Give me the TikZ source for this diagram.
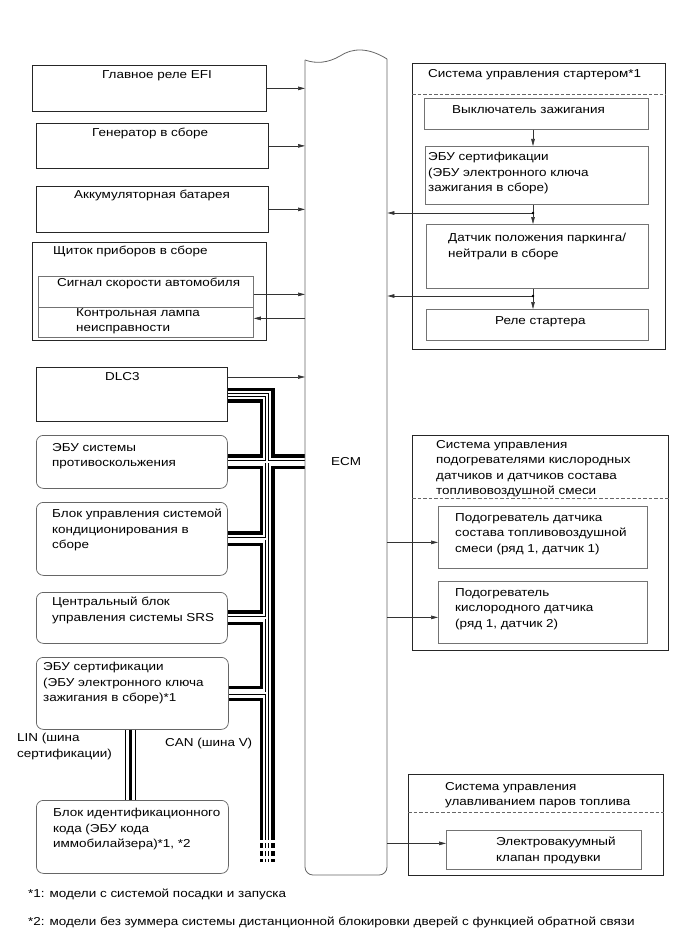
\documentclass[tikz,border=0pt]{standalone}
\usepackage{fontspec}
\setmainfont{Liberation Sans}[FakeStretch=1.17]
\usetikzlibrary{arrows.meta}

\tikzset{
  box/.style={draw=black!85, line width=0.75pt, inner sep=0pt, anchor=north west},
  rbox/.style={box, draw=black!60, rounded corners=7pt},
  ibox/.style={box, draw=black!55},
  txt/.style={inner sep=0pt, anchor=north west, align=left, font=\fontsize{11.5}{15.5}\selectfont},
  sig/.style={draw=black!80, line width=0.6pt, -{Triangle[length=7pt,width=3.6pt]}},
  sepline/.style={draw=black!60, line width=0.6pt, dash pattern=on 3.5pt off 2pt},
}

\begin{document}
\begin{tikzpicture}[x=1pt,y=-1pt]
\useasboundingbox (0,0) rectangle (690,952);

%Shape: ECM (outline drawn below)
\node[inner sep=0pt, minimum width=82pt, minimum height=815pt, anchor=north west] (ecm) at (305,60) {};

%Shape: Rectangle, left column
\node[box, minimum width=234pt, minimum height=46pt] (efi) at (32,65) {};
\node[box, minimum width=232pt, minimum height=45pt] (gen) at (36,123) {};
\node[box, minimum width=232pt, minimum height=46pt] (bat) at (36,186) {};
\node[box, minimum width=234pt, minimum height=98pt] (clu) at (32,242) {};
\node[ibox, minimum width=215pt, minimum height=31pt] (spd) at (38,276) {};
\node[ibox, minimum width=215pt, minimum height=30pt] (lamp) at (38,307) {};
\node[box, minimum width=191pt, minimum height=54pt] (dlc) at (36,367) {};
\node[rbox, minimum width=191pt, minimum height=53pt] (abs) at (36,435) {};
\node[rbox, minimum width=191pt, minimum height=73pt] (ac) at (36,502) {};
\node[rbox, minimum width=191pt, minimum height=51pt] (srs) at (36,592) {};
\node[rbox, minimum width=192pt, minimum height=72pt] (cert) at (36,657) {};
\node[rbox, minimum width=192pt, minimum height=73pt] (immo) at (36,800) {};

%Shape: Rectangle, right column
\node[box, minimum width=253pt, minimum height=286pt] (sta) at (412,63) {};
\node[ibox, minimum width=224pt, minimum height=31pt] (ign) at (424,98) {};
\node[ibox, minimum width=223pt, minimum height=58pt] (cer) at (425,146) {};
\node[ibox, minimum width=222pt, minimum height=64pt] (park) at (426,224) {};
\node[ibox, minimum width=222pt, minimum height=31pt] (rel) at (426,309) {};
\node[box, minimum width=256pt, minimum height=215pt] (oxs) at (412,435) {};
\node[ibox, minimum width=209pt, minimum height=62pt] (afh) at (438,506) {};
\node[ibox, minimum width=209pt, minimum height=62pt] (o2h) at (438,581) {};
\node[box, minimum width=255pt, minimum height=101pt] (evp) at (408,774) {};
\node[ibox, minimum width=195pt, minimum height=39pt] (vsv) at (446,830) {};

%Dashed Lines
\draw[sepline] ([yshift=-31pt]sta.north west) -- ([yshift=-31pt]sta.north east);
\draw[sepline] ([yshift=-63pt]oxs.north west) -- ([yshift=-63pt]oxs.north east);
\draw[sepline] ([yshift=-38pt]evp.north west) -- ([yshift=-38pt]evp.north east);

%CAN bus
\coordinate (tr) at (267,395);
\coordinate (tre) at (267,835);
\coordinate (trb) at (267,862);
\foreach \w/\c in {15/black, 8.6/white, 3.2/black, 1.9/white}{
  \draw[line width=\w pt, \c] (dlc.east |- tr) -- (tr) -- (tre);
  \draw[line width=\w pt, \c] (abs.east) -- (abs.east -| ecm.west);
  \draw[line width=\w pt, \c] (ac.east) -- (ac.east -| tr);
  \draw[line width=\w pt, \c] (srs.east) -- (srs.east -| tr);
  \draw[line width=\w pt, \c] (cert.east) -- (cert.east -| tr);
  \draw[line width=\w pt, \c, dash pattern=on 5pt off 3pt] (tre) -- (trb);
}

%LIN bus
\coordinate (lin) at (130.5,0);
\foreach \w/\c in {11/black, 9.4/white, 3.6/black}
  \draw[line width=\w pt, \c] (cert.south -| lin) -- (immo.north -| lin);

%Shape: ECM outline
\draw[draw=black!60, line width=0.8pt] (305,60) .. controls (316,64) and (328,63) .. (340,56) .. controls (352,48) and (368,47) .. (387,59);
\draw[draw=black!60, line width=0.8pt, rounded corners=8pt] (387,59) -- (387,875) -- (305,875) -- (305,60);

%Straight Lines, signals to ECM
\draw[sig] (efi.east) -- (efi.east -| ecm.west);
\draw[sig] (gen.east) -- (gen.east -| ecm.west);
\draw[sig] (bat.east) -- (bat.east -| ecm.west);
\coordinate (s1) at ([yshift=-2.5pt]spd.east);
\draw[sig] (s1) -- (s1 -| ecm.west);
\coordinate (s2) at ([yshift=4pt]lamp.east);
\draw[sig] (s2 -| ecm.west) -- (s2);
\coordinate (s3) at ([yshift=-10pt]dlc.north east);
\draw[sig] (s3) -- (s3 -| ecm.west);

%Starter chain
\coordinate (d1) at (533,213);
\coordinate (d2) at (533,296);
\draw[sig] (ign.south -| d1) -- (cer.north -| d1);
\draw[draw=black!80, line width=0.6pt] (cer.south -| d1) -- (d1);
\draw[sig] (d1) -- (park.north -| d1);
\draw[sig] (d1) -- (d1 -| ecm.east);
\draw[draw=black!80, line width=0.6pt] (park.south -| d1) -- (d2);
\draw[sig] (d2) -- (rel.north -| d2);
\draw[sig] (d2) -- (d2 -| ecm.east);
\fill (d1) circle (1.4);
\fill (d2) circle (1.4);

%Straight Lines, ECM outputs
\coordinate (o1) at ([yshift=-5pt]afh.west);
\draw[sig] (o1 -| ecm.east) -- (o1);
\coordinate (o2) at ([yshift=-5pt]o2h.west);
\draw[sig] (o2 -| ecm.east) -- (o2);
\coordinate (o3) at ([yshift=6.5pt]vsv.west);
\draw[sig] (o3 -| ecm.east) -- (o3);

% Text Node
\node[txt] (efi-t) at (102,70) {Главное реле EFI};
\node[txt] (gen-t) at (92,128) {Генератор в сборе};
\node[txt] (bat-t) at (74,190) {Аккумуляторная батарея};
\node[txt] (clu-t) at (53,246) {Щиток приборов в сборе};
\node[txt] (spd-t) at (57,278) {Сигнал скорости автомобиля};
\node[txt] (lamp-t) at (76,308) {Контрольная лампа\\неисправности};
\node[txt] (dlc-t) at (105,372.5) {DLC3};
\node[txt] (abs-t) at (52,443) {ЭБУ системы\\противоскольжения};
\node[txt] (ac-t) at (52,509) {Блок управления системой\\кондиционирования в\\сборе};
\node[txt] (srs-t) at (52,597) {Центральный блок\\управления системы SRS};
\node[txt] (cert-t) at (43,662) {ЭБУ сертификации\\(ЭБУ электронного ключа\\зажигания в сборе)*1};
\node[txt] (immo-t) at (53,808) {Блок идентификационного\\кода (ЭБУ кода\\иммобилайзера)*1, *2};
\node[txt] (lin-t) at (17,733) {LIN (шина\\сертификации)};
\node[txt] (can-t) at (165,738) {CAN (шина V)};
\node[txt] (ecm-t) at (331,457.5) {ECM};
% Text Node
\node[txt] (sta-t) at (428,69) {Система управления стартером*1};
\node[txt] (ign-t) at (452,105) {Выключатель зажигания};
\node[txt] (cer-t) at (428,152) {ЭБУ сертификации\\(ЭБУ электронного ключа\\зажигания в сборе)};
\node[txt] (park-t) at (448,233) {Датчик положения паркинга/\\нейтрали в сборе};
\node[txt] (rel-t) at (495,316) {Реле стартера};
\node[txt] (oxs-t) at (436,440) {Система управления\\подогревателями кислородных\\датчиков и датчиков состава\\топливовоздушной смеси};
\node[txt] (afh-t) at (455,513) {Подогреватель датчика\\состава топливовоздушной\\смеси (ряд 1, датчик 1)};
\node[txt] (o2h-t) at (455,588) {Подогреватель\\кислородного датчика\\(ряд 1, датчик 2)};
\node[txt] (evp-t) at (445,782) {Система управления\\улавливанием паров топлива};
\node[txt] (vsv-t) at (496,837) {Электровакуумный\\клапан продувки};
% Text Node, footnotes
\node[txt] (fn1) at (28,889) {*1: модели с системой посадки и запуска};
\node[txt] (fn2) at (28,917) {*2: модели без зуммера системы дистанционной блокировки дверей с функцией обратной связи};

\end{tikzpicture}
\end{document}
